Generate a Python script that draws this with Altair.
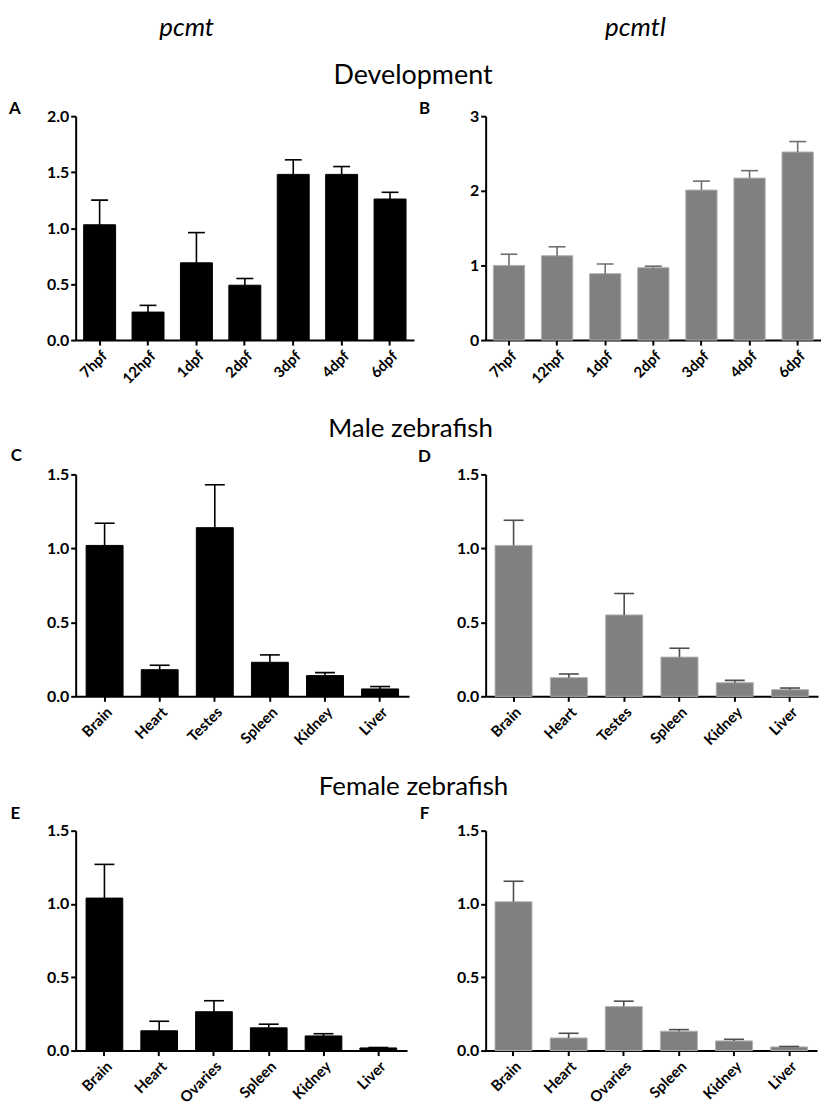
import altair as alt
import pandas as pd

# ---------------- data ----------------
dev_stages = ["7hpf", "12hpf", "1dpf", "2dpf", "3dpf", "4dpf", "6dpf"]
male_tissues = ["Brain", "Heart", "Testes", "Spleen", "Kidney", "Liver"]
female_tissues = ["Brain", "Heart", "Ovaries", "Spleen", "Kidney", "Liver"]

pcmt_dev_mean = [1.03, 0.25, 0.69, 0.49, 1.48, 1.48, 1.26]
pcmt_dev_err = [0.22, 0.06, 0.27, 0.06, 0.13, 0.07, 0.06]

pcmtl_dev_mean = [1.00, 1.13, 0.89, 0.97, 2.01, 2.17, 2.52]
pcmtl_dev_err = [0.15, 0.12, 0.13, 0.02, 0.12, 0.10, 0.14]

pcmt_male_mean = [1.02, 0.18, 1.14, 0.23, 0.14, 0.05]
pcmt_male_err = [0.15, 0.03, 0.29, 0.05, 0.02, 0.016]

pcmtl_male_mean = [1.02, 0.126, 0.55, 0.265, 0.092, 0.045]
pcmtl_male_err = [0.17, 0.025, 0.145, 0.06, 0.016, 0.011]

pcmt_female_mean = [1.04, 0.135, 0.265, 0.155, 0.10, 0.018]
pcmt_female_err = [0.23, 0.065, 0.075, 0.025, 0.015, 0.003]

pcmtl_female_mean = [1.015, 0.086, 0.30, 0.132, 0.066, 0.025]
pcmtl_female_err = [0.14, 0.032, 0.037, 0.011, 0.011, 0.003]

FONT = "Lato"


def panel(cats, means, errs, letter, letter_pos, ymax, yvalues, fmt,
          width, height, fill, stroke, errcolor, cap, pi, po,
          xtitle=None, xtitle_pos=(0, 0), xtitle_style="normal"):
    df = pd.DataFrame({"cat": cats, "mean": means, "err": errs})
    df["upper"] = df["mean"] + df["err"]

    xaxis_kw = dict(
        labelAngle=-45, labelAlign="right", labelBaseline="top",
        labelFont=FONT, labelFontSize=15, labelFontWeight="bold",
        labelColor="black", labelPadding=3,
        domainColor="black", domainWidth=2,
        tickColor="black", tickWidth=2, tickSize=5,
        grid=False,
    )
    if xtitle is not None:
        xaxis_kw.update(
            title=xtitle, titleX=xtitle_pos[0], titleY=xtitle_pos[1],
            titleAngle=0, titleAlign="center", titleBaseline="middle",
            titleFont=FONT, titleFontSize=26, titleFontWeight="normal",
            titleFontStyle=xtitle_style, titleColor="black",
        )
    else:
        xaxis_kw.update(title=None)

    x = alt.X("cat:N", sort=cats,
              scale=alt.Scale(paddingInner=pi, paddingOuter=po),
              axis=alt.Axis(**xaxis_kw))

    yaxis = alt.Axis(
        values=yvalues, format=fmt,
        labelFont=FONT, labelFontSize=16, labelFontWeight="bold",
        labelColor="black", labelPadding=2,
        domainColor="black", domainWidth=2,
        tickColor="black", tickWidth=2, tickSize=5,
        grid=False,
        title=letter, titleX=letter_pos[0], titleY=letter_pos[1],
        titleAngle=0, titleAlign="center", titleBaseline="middle",
        titleFont=FONT, titleFontSize=17, titleFontWeight="bold",
        titleColor="black",
    )
    yscale = alt.Scale(domain=[0, ymax], nice=False, zero=True)

    base = alt.Chart(df)
    bars = base.mark_bar(fill=fill, stroke=stroke, strokeWidth=1).encode(
        x=x, y=alt.Y("mean:Q", scale=yscale, axis=yaxis)
    )
    rule = base.mark_rule(color=errcolor, strokeWidth=1.6).encode(
        x=x, y=alt.Y("mean:Q", scale=yscale, axis=yaxis), y2="upper:Q"
    )
    tick = base.mark_tick(color=errcolor, size=cap, thickness=1.6,
                          opacity=1).encode(
        x=x, y=alt.Y("upper:Q", scale=yscale, axis=yaxis)
    )
    return alt.layer(bars, rule, tick).properties(width=width, height=height)


H1, H2, H3 = 225, 223, 221

A = panel(dev_stages, pcmt_dev_mean, pcmt_dev_err, "A", (-61.5, -7.5),
          2.0, [0, 0.5, 1.0, 1.5, 2.0], ".1f", 340, H1,
          "black", "black", "black", 17, 0.34, 0.165,
          xtitle="pcmt", xtitle_pos=(111, -89 - H1), xtitle_style="italic")
B = panel(dev_stages, pcmtl_dev_mean, pcmtl_dev_err, "B", (-62, -7.5),
          3, [0, 1, 2, 3], "d", 337, H1,
          "#808080", "#b0b0b0", "#6e6e6e", 17, 0.35, 0.16,
          xtitle="pcmtl", xtitle_pos=(150, -89 - H1), xtitle_style="italic")
C = panel(male_tissues, pcmt_male_mean, pcmt_male_err, "C", (-60, -18.5),
          1.5, [0, 0.5, 1.0, 1.5], ".1f", 335, H2,
          "black", "black", "black", 20, 0.33, 0.19,
          xtitle="Male zebrafish", xtitle_pos=(336, -46 - H2))
D = panel(male_tissues, pcmtl_male_mean, pcmtl_male_err, "D", (-62, -18),
          1.5, [0, 0.5, 1.0, 1.5], ".1f", 334, H2,
          "#808080", "#b0b0b0", "#4d4d4d", 20, 0.33, 0.17)
E = panel(female_tissues, pcmt_female_mean, pcmt_female_err, "E", (-61, -17),
          1.5, [0, 0.5, 1.0, 1.5], ".1f", 333, H3,
          "black", "black", "black", 20, 0.33, 0.19,
          xtitle="Female zebrafish", xtitle_pos=(339, -44 - H3))
F = panel(female_tissues, pcmtl_female_mean, pcmtl_female_err, "F", (-62, -17),
          1.5, [0, 0.5, 1.0, 1.5], ".1f", 333, H3,
          "#808080", "#b0b0b0", "#4d4d4d", 20, 0.33, 0.17)

chart = alt.concat(
    A, B, C, D, E, F, columns=2,
    spacing={"row": 135, "column": 72},
    bounds="flush",
).properties(
    title=alt.TitleParams(
        "Development", anchor="start", frame="group", align="center",
        dx=339, dy=89, offset=0, baseline="middle",
        font=FONT, fontSize=27, fontWeight="normal", color="black",
    ),
    padding={"left": 0, "top": 4, "right": 0, "bottom": 0},
    background="white",
).configure_view(stroke=None)

chart.save("out.html", embed_options={"renderer": "svg", "actions": False})
